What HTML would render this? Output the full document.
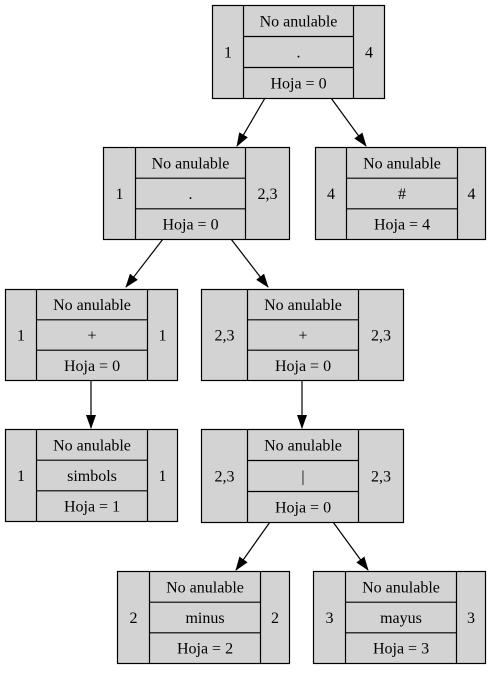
<!DOCTYPE html>
<html><head><meta charset="utf-8"><style>
html,body{margin:0;padding:0;background:#fff;}
svg text{font-family:"Liberation Serif",serif;font-size:16px;fill:#000;text-anchor:middle;}
</style></head><body>
<svg width="492" height="669" viewBox="0 0 492 669" xmlns="http://www.w3.org/2000/svg">
<defs>
<marker id="a" markerWidth="14" markerHeight="12" refX="13" refY="5" orient="auto" markerUnits="userSpaceOnUse">
<path d="M0,0 L14,5 L0,10 Z" fill="#000"/></marker>
</defs>
<g stroke="#000" stroke-width="1.2" fill="none">
<line x1="265" y1="98" x2="237" y2="146" marker-end="url(#a)"/>
<line x1="331" y1="98" x2="366" y2="146" marker-end="url(#a)"/>
<line x1="163" y1="239" x2="126" y2="287" marker-end="url(#a)"/>
<line x1="231" y1="239" x2="268" y2="287" marker-end="url(#a)"/>
<line x1="91" y1="380" x2="91" y2="428" marker-end="url(#a)"/>
<line x1="302" y1="380" x2="302" y2="428" marker-end="url(#a)"/>
<line x1="270" y1="522" x2="236" y2="570" marker-end="url(#a)"/>
<line x1="333" y1="522" x2="368" y2="570" marker-end="url(#a)"/>
</g>
<g id="nodes"></g>
</svg>
<script>
var nodes=[
[212,384,243,353,5,98,"1",".","Hoja = 0","4"],
[103,289,135,245,147,239,"1",".","Hoja = 0","2,3"],
[315,485,346,457,147,239,"4","#","Hoja = 4","4"],
[5,177,36,147,289,380,"1","+","Hoja = 0","1"],
[201,403,247,358,289,380,"2,3","+","Hoja = 0","2,3"],
[5,177,36,147,429,521,"1","simbols","Hoja = 1","1"],
[201,403,247,358,429,522,"2,3","|","Hoja = 0","2,3"],
[117,289,149,260,571,663,"2","minus","Hoja = 2","2"],
[313,485,345,456,571,663,"3","mayus","Hoja = 3","3"]];
var g=document.getElementById("nodes"),s="";
nodes.forEach(function(n){
var x0=n[0]+.5,x1=n[1]+.5,d1=n[2]+.5,d2=n[3]+.5,y0=n[4]+.5,y1=n[5]+.5;
var h=(y1-y0)/3,r1=y0+h,r2=y0+2*h,ym=(y0+y1)/2;
s+='<rect x="'+x0+'" y="'+y0+'" width="'+(x1-x0)+'" height="'+(y1-y0)+'" fill="#d3d3d3" stroke="#000" stroke-width="1.2"/>';
s+='<path d="M'+d1+' '+y0+'V'+y1+'M'+d2+' '+y0+'V'+y1+'M'+d1+' '+r1+'H'+d2+'M'+d1+' '+r2+'H'+d2+'" stroke="#000" stroke-width="1.2" fill="none"/>';
s+='<text x="'+(x0+d1)/2+'" y="'+(ym+5.5)+'">'+n[6]+'</text>';
s+='<text x="'+(d2+x1)/2+'" y="'+(ym+5.5)+'">'+n[9]+'</text>';
var cx=(d1+d2)/2;
s+='<text x="'+cx+'" y="'+(y0+h/2+5.5)+'">No anulable</text>';
s+='<text x="'+cx+'" y="'+(ym+5.5)+'">'+n[7]+'</text>';
s+='<text x="'+cx+'" y="'+(y0+2.5*h+5.5)+'">'+n[8]+'</text>';
});
g.innerHTML=s;
</script>
</body></html>
